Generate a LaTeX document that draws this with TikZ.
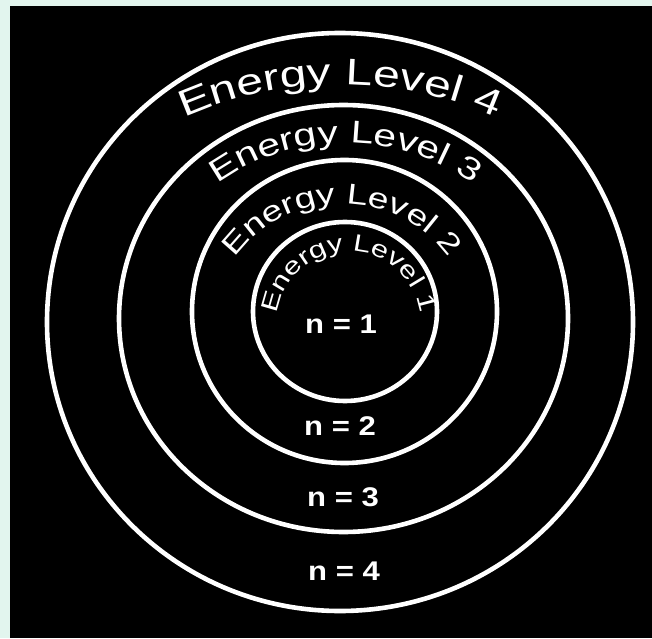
\documentclass[tikz,border=0pt]{standalone}
\usepackage{fontspec}
\newfontfamily\arcfont[FakeStretch=1.3]{Liberation Sans}
\newfontfamily\labfont[FakeStretch=1.15]{Liberation Sans}
\usetikzlibrary{decorations.text}
\definecolor{mintbg}{HTML}{E2F5EE}

\begin{document}
\begin{tikzpicture}[
  x=1pt, y=1pt,
  ring/.style={draw=white, line width=4.6pt},
  nlab/.style={text=white, inner sep=0pt, font=\labfont\bfseries\fontsize{27}{27}\selectfont},
  arctext/.style={decorate, decoration={text along path, text align=center,
    text color=white, text={#1}}},
]
  \useasboundingbox (0,0) rectangle (652,638);
  \fill[mintbg] (0,0) rectangle (652,638);
  \fill[black] (10,0) rectangle (652,632);

  % the four shells
  \draw[ring] (340,316) ellipse [x radius=293, y radius=289];
  \draw[ring] (343.5,319.5) ellipse [x radius=224.5, y radius=213.5];
  \draw[ring] (344.5,326.5) ellipse [x radius=152.5, y radius=151.5];
  \draw[ring] (345,326.5) ellipse [x radius=92, y radius=89.5];

  % curved names
  \path[arctext={|\arcfont\fontsize{37}{37}\selectfont|Energy Level 4}]
    (340,169.5) ++(170:384) arc[start angle=170, end angle=10, radius=384];
  \path[arctext={|\arcfont\fontsize{31.4}{31.4}\selectfont|Energy Level 3}]
    (345.5,275.3) ++(175:220) arc[start angle=175, end angle=5, radius=220];
  \path[arctext={|\arcfont\fontsize{28.7}{28.7}\selectfont|Energy Level 2}]
    (342,302.6) ++(178:132) arc[start angle=178, end angle=2, radius=132];
  \path[arctext={|\arcfont\fontsize{23.8}{23.8}\selectfont|Energy Level 1}]
    (349,314.6) ++(185:72) arc[start angle=185, end angle=-5, radius=72];

  % quantum numbers
  \node[nlab] (n1) at (341,314) {n = 1};
  \node[nlab] (n2) at (340,212) {n = 2};
  \node[nlab] (n3) at (343,141) {n = 3};
  \node[nlab] (n4) at (344,67) {n = 4};
\end{tikzpicture}
\end{document}
